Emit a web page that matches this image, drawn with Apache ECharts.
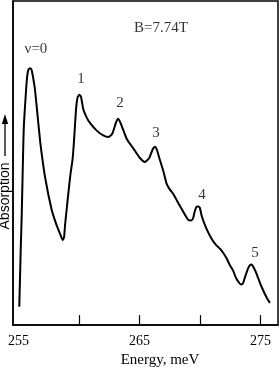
<!DOCTYPE html>
<html>
<head>
<meta charset="utf-8">
<script src="https://cdn.jsdelivr.net/npm/echarts@6/dist/echarts.min.js"></script>
<style>
html,body{margin:0;padding:0;background:#fff;}
#chart{width:280px;height:373px;}
</style>
</head>
<body>
<div id="chart"></div>
<script>
// Energy (meV) and absorption (arbitrary units)
const energy = [255.07,255.19,255.27,255.40,255.46,255.63,255.73,255.83,255.96,256.08,256.21,256.37,256.64,256.83,257.20,257.75,258.16,258.48,258.66,258.77,258.85,259.12,259.30,259.47,259.59,259.76,259.88,260.03,260.17,260.36,260.62,260.91,261.47,262.01,262.42,262.75,263.06,263.25,263.53,263.94,264.49,265.04,265.45,265.81,266.07,266.28,266.45,266.64,266.97,267.25,267.52,267.77,268.35,268.76,269.01,269.25,269.42,269.58,269.73,269.86,270.00,270.14,270.49,270.96,271.32,271.65,271.90,272.20,272.47,272.75,272.97,273.22,273.38,273.55,273.71,273.96,274.13,274.27,274.42,274.68,274.95,275.22,275.53,275.78];
const absorption = [19,79,113,186,209,243,258,264,265.5,264,256,243,209,186,153,119,103,93,88,91,103,136,156,171,190,223,235,238,236,223,215,209,201,196,194.3,197.7,209.3,213.3,206,192.7,182.7,172.7,168.7,172.7,181,184.3,181,172.7,159.3,146,140,136,123,114,109,108,110,118,122.5,122.7,121,113,101,89.3,83,79,75,69,62,56,49,44,42,43,49,58,62,62.7,60,53,44,36,28,23];

// Annotation texts and their anchor positions (data units)
const noteText = ['ν=0','1','2','3','4','5','B=7.74T'];
const noteX = [256.45,260.17,263.40,266.36,270.16,274.54,266.78];
const noteY = [285,254,229,199,134,74,307];

// Axis ticks and labels
const tickValues = [260,265,270,275];
const tickLabels = [255,265,275];

const chart = echarts.init(document.getElementById('chart'), null, {renderer:'canvas'});
const serif = 'Liberation Serif';

chart.setOption({
  animation:false,
  backgroundColor:'#ffffff',
  grid:{left:13,right:2,top:1,bottom:37,show:true,borderColor:'#000',borderWidth:1.5,containLabel:false},
  xAxis:{
    type:'value', min:254.55, max:276.45,
    name:'Energy, meV', nameLocation:'middle', nameGap:20,
    nameTextStyle:{fontFamily:serif,fontSize:15,color:'#000',padding:[0,0,0,29]},
    axisLine:{show:true,lineStyle:{color:'#000',width:1.5}},
    axisTick:{show:true,inside:true,length:10,customValues:tickValues,lineStyle:{color:'#000',width:1.2}},
    axisLabel:{show:true,customValues:tickLabels,margin:9,fontFamily:serif,fontSize:14,color:'#000'},
    splitLine:{show:false}
  },
  yAxis:{
    type:'value', min:0, max:335,
    axisLine:{show:true,lineStyle:{color:'#000',width:1.5}},
    axisTick:{show:false}, axisLabel:{show:false}, splitLine:{show:false}
  },
  graphic:[
    {type:'text', x:5, y:196, rotation:Math.PI/2,
     style:{text:'Absorption', font:'14px "Liberation Sans"', fill:'#000', align:'center', verticalAlign:'middle'}},
    {type:'line', shape:{x1:5,y1:156,x2:5,y2:122}, style:{stroke:'#000',lineWidth:1.3}},
    {type:'polygon', shape:{points:[[1.8,124],[8.2,124],[5,114]]}, style:{fill:'#000'}}
  ],
  series:[
    {
      type:'line',
      data: energy.map((e,i)=>[e,absorption[i]]),
      showSymbol:false, smooth:0.2,
      lineStyle:{color:'#000',width:2},
      z:3
    },
    {
      type:'scatter',
      symbolSize:0,
      data: noteText.map((t,i)=>({name:t,value:[noteX[i],noteY[i]]})),
      label:{show:true,position:'inside',formatter:p=>p.name,fontFamily:serif,fontSize:15,color:'#000'},
      silent:true, z:4
    }
  ]
});
</script>
</body>
</html>
